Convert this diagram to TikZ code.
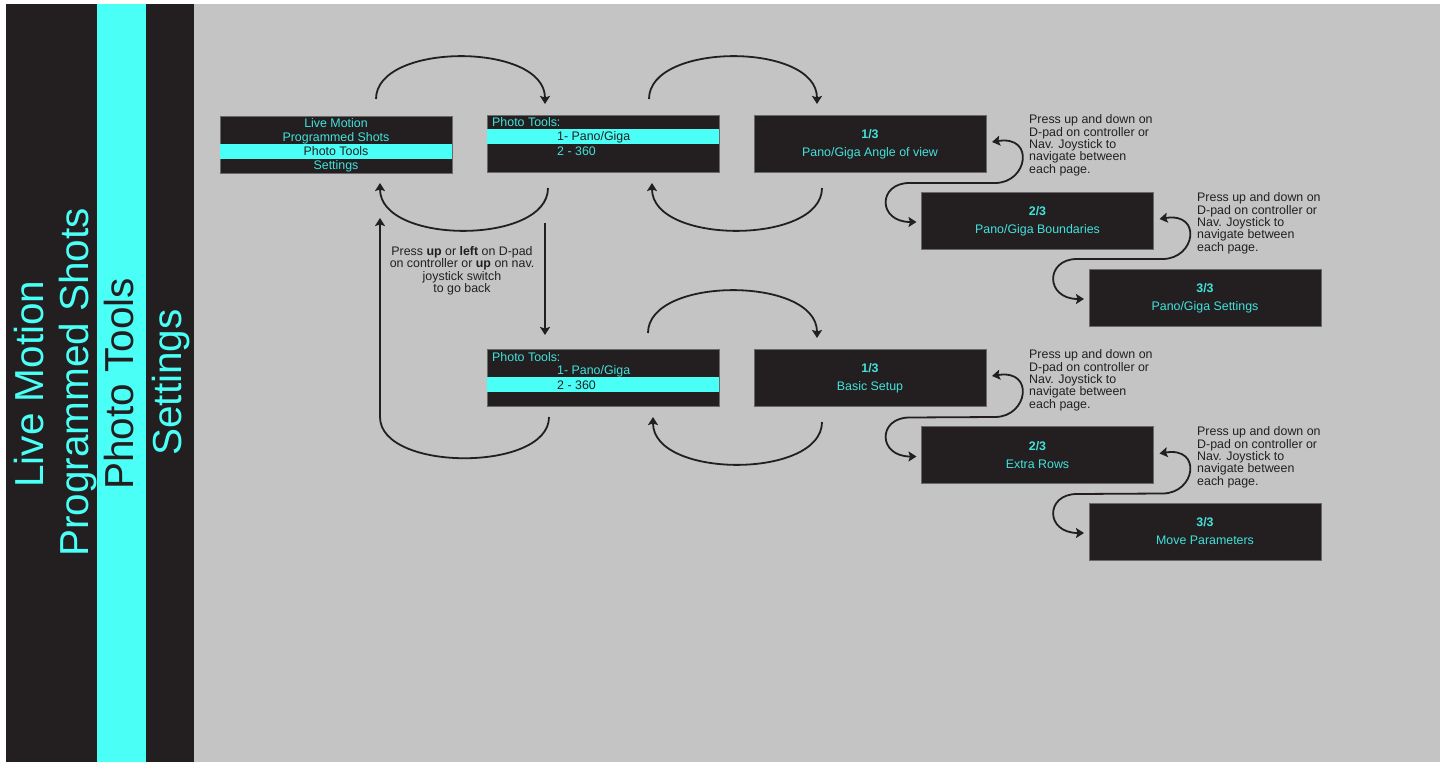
\documentclass[tikz,border=0pt]{standalone}
\usepackage{fontspec}
\setmainfont{Liberation Sans}
\usetikzlibrary{calc,arrows.meta}
\definecolor{bg}{RGB}{196,196,196}
\definecolor{ink}{RGB}{35,31,32}
\definecolor{cyanband}{RGB}{74,255,246}
\definecolor{cyantext}{RGB}{66,226,220}
\definecolor{edge}{RGB}{105,105,105}
\newcommand{\mkpage}[5]{%
  \node[box] (#1) at (#2,#3) {};
  \node[boxtxt, font=\bfseries\fontsize{12.4}{14}\selectfont, anchor=base] (#1-num) at ($(#1.center)+(0,-5)$) {#4};
  \node[boxtxt, anchor=base] (#1-title) at ($(#1.center)+(0,13)$) {#5};
}
\begin{document}
\begin{tikzpicture}[x=1pt,y=-1pt,
  box/.style={draw=edge, line width=0.7pt, fill=ink, minimum width=232pt, minimum height=57pt, inner sep=0pt, outer sep=0pt},
  boxtxt/.style={font=\fontsize{12.4}{14}\selectfont, text=cyantext, inner sep=0pt},
  inktxt/.style={font=\fontsize{12.4}{14}\selectfont, text=ink, inner sep=0pt},
  note/.style={font=\fontsize{12.4}{12.45}\selectfont, text=ink, align=left, anchor=north west, inner sep=0pt},
  side/.style={font=\fontsize{40.5}{40.5}\selectfont, rotate=90, anchor=base, inner sep=0pt},
  conn/.style={draw=ink, line width=1.8pt, -{Stealth[length=8pt,width=10pt,inset=1.5pt]}},
  dconn/.style={draw=ink, line width=1.8pt, {Stealth[length=8pt,width=10pt,inset=1.5pt]}-{Stealth[length=8pt,width=10pt,inset=1.5pt]}}
]
\useasboundingbox (0,0) rectangle (1445,762);
\fill[white] (0,0) rectangle (1445,762);
\fill[bg] (6,4) rectangle (1440,762);
% sidebar
\fill[ink] (6,4) rectangle (97,762);
\fill[cyanband] (97,4) rectangle (146,762);
\fill[ink] (146,4) rectangle (194,762);
\node[side, text=cyanband] (sLive) at (43,384) {Live Motion};
\node[side, text=cyanband] (sProg) at (88,382.5) {Programmed Shots};
\node[side, text=ink] (sPhoto) at (133,384) {Photo Tools};
\node[side, text=cyanband] (sSet) at (181,382.5) {Settings};

% main menu
\node[box] (menu) at (336,144.5) {};
\fill[cyanband] ($(menu.north west)+(0,28)$) rectangle ($(menu.north east)+(0,43)$);
\node[boxtxt, anchor=base] (mLive) at (336,127.5) {Live Motion};
\node[boxtxt, anchor=base] (mProg) at (336,141.5) {Programmed Shots};
\node[inktxt, anchor=base] (mPhoto) at (336,155.5) {Photo Tools};
\node[boxtxt, anchor=base] (mSet) at (336,169.5) {Settings};

% photo tools 1
\node[box] (pt1) at (603,143.5) {};
\fill[cyanband] ($(pt1.north west)+(0,14)$) rectangle ($(pt1.north east)+(0,29)$);
\node[boxtxt, anchor=base west] (p1h) at (492,126.9) {Photo Tools:};
\node[inktxt, anchor=base west] (p1a) at (557,140.9) {1- Pano/Giga};
\node[boxtxt, anchor=base west] (p1b) at (557,155.4) {2 - 360};

% photo tools 2
\node[box] (pt2) at (603,377.5) {};
\fill[cyanband] ($(pt2.north west)+(0,28)$) rectangle ($(pt2.north east)+(0,43)$);
\node[boxtxt, anchor=base west] (p2h) at (492,361.6) {Photo Tools:};
\node[boxtxt, anchor=base west] (p2a) at (557,374.6) {1- Pano/Giga};
\node[inktxt, anchor=base west] (p2b) at (557,389) {2 - 360};

% pages
\mkpage{a1}{870}{143.5}{1/3}{Pano/Giga Angle of view}
\mkpage{a2}{1037.5}{220.5}{2/3}{Pano/Giga Boundaries}
\mkpage{a3}{1205}{297.5}{3/3}{Pano/Giga Settings}
\mkpage{b1}{870}{377.5}{1/3}{Basic Setup}
\mkpage{b2}{1037.5}{455}{2/3}{Extra Rows}
\mkpage{b3}{1205}{531.5}{3/3}{Move Parameters}

% notes
\node[note] (n1) at (1029,114.4) {Press up and down on\\D-pad on controller or\\Nav. Joystick to\\navigate between\\each page.};
\node[note] (n2) at (1197,192.4) {Press up and down on\\D-pad on controller or\\Nav. Joystick to\\navigate between\\each page.};
\node[note] (n3) at (1029,349.4) {Press up and down on\\D-pad on controller or\\Nav. Joystick to\\navigate between\\each page.};
\node[note] (n4) at (1197,426.4) {Press up and down on\\D-pad on controller or\\Nav. Joystick to\\navigate between\\each page.};
\node[font=\fontsize{12.4}{12.45}\selectfont, text=ink, align=center, inner sep=0pt] (back) at (462,271)
  {Press \textbf{up} or \textbf{left} on D-pad\\on controller or \textbf{up} on nav.\\joystick switch\\to go back};

% top row connectors
\draw[conn] ($(menu.north)+(40,-17)$) .. controls +(0,-57) and +(0,-62) .. ($(pt1.north west)+(58,-11)$);
\draw[conn] ($(pt1.north west)+(162,-16)$) .. controls +(0,-57) and +(0,-62) .. ($(a1.north west)+(63,-11)$);
\draw[conn] ($(pt1.south west)+(61,16)$) .. controls +(0,57) and +(0,62) .. ($(menu.south west)+(160,10)$);
\draw[conn] ($(a1.south west)+(68,16)$) .. controls +(0,57) and +(0,62) .. ($(pt1.south west)+(165,11)$);
\draw[conn] ($(pt1.south west)+(58,51)$) -- ($(pt2.north west)+(58,-14)$);

% bottom row connectors
\draw[conn] ($(pt2.north west)+(161,-16)$) .. controls +(0,-57) and +(0,-62) .. ($(b1.north west)+(63,-11)$);
\draw[conn] ($(b1.south west)+(68,16)$) .. controls +(0,57) and +(0,62) .. ($(pt2.south west)+(166,11)$);
\draw[conn] ($(pt2.south west)+(62,11)$) .. controls +(0,55) and +(0,55) .. ($(menu.south west)+(160,244)$) -- ($(menu.south west)+(160,45)$);

% page S connectors
\draw[dconn] ($(a1.north east)+(6,27)$) .. controls +(43,-7) and +(33,0) .. ($(a1.north east)+(9,68)$) -- ($(a2.north west)+(-12,-9)$) .. controls +(-32,0) and +(-39,0) .. ($(a2.north west)+(-5,30)$);
\draw[dconn] ($(a2.north east)+(6,27)$) .. controls +(43,-7) and +(33,0) .. ($(a2.north east)+(9,67)$) -- ($(a3.north west)+(-12,-10)$) .. controls +(-32,0) and +(-39,0) .. ($(a3.north west)+(-5,30)$);
\draw[dconn] ($(b1.north east)+(6,27)$) .. controls +(43,-7) and +(33,0) .. ($(b1.north east)+(9,68)$) -- ($(b2.north west)+(-12,-9)$) .. controls +(-32,0) and +(-39,0) .. ($(b2.north west)+(-5,30)$);
\draw[dconn] ($(b2.north east)+(6,27)$) .. controls +(43,-7) and +(33,0) .. ($(b2.north east)+(9,67)$) -- ($(b3.north west)+(-12,-9)$) .. controls +(-32,0) and +(-39,0) .. ($(b3.north west)+(-5,30)$);
\end{tikzpicture}
\end{document}
